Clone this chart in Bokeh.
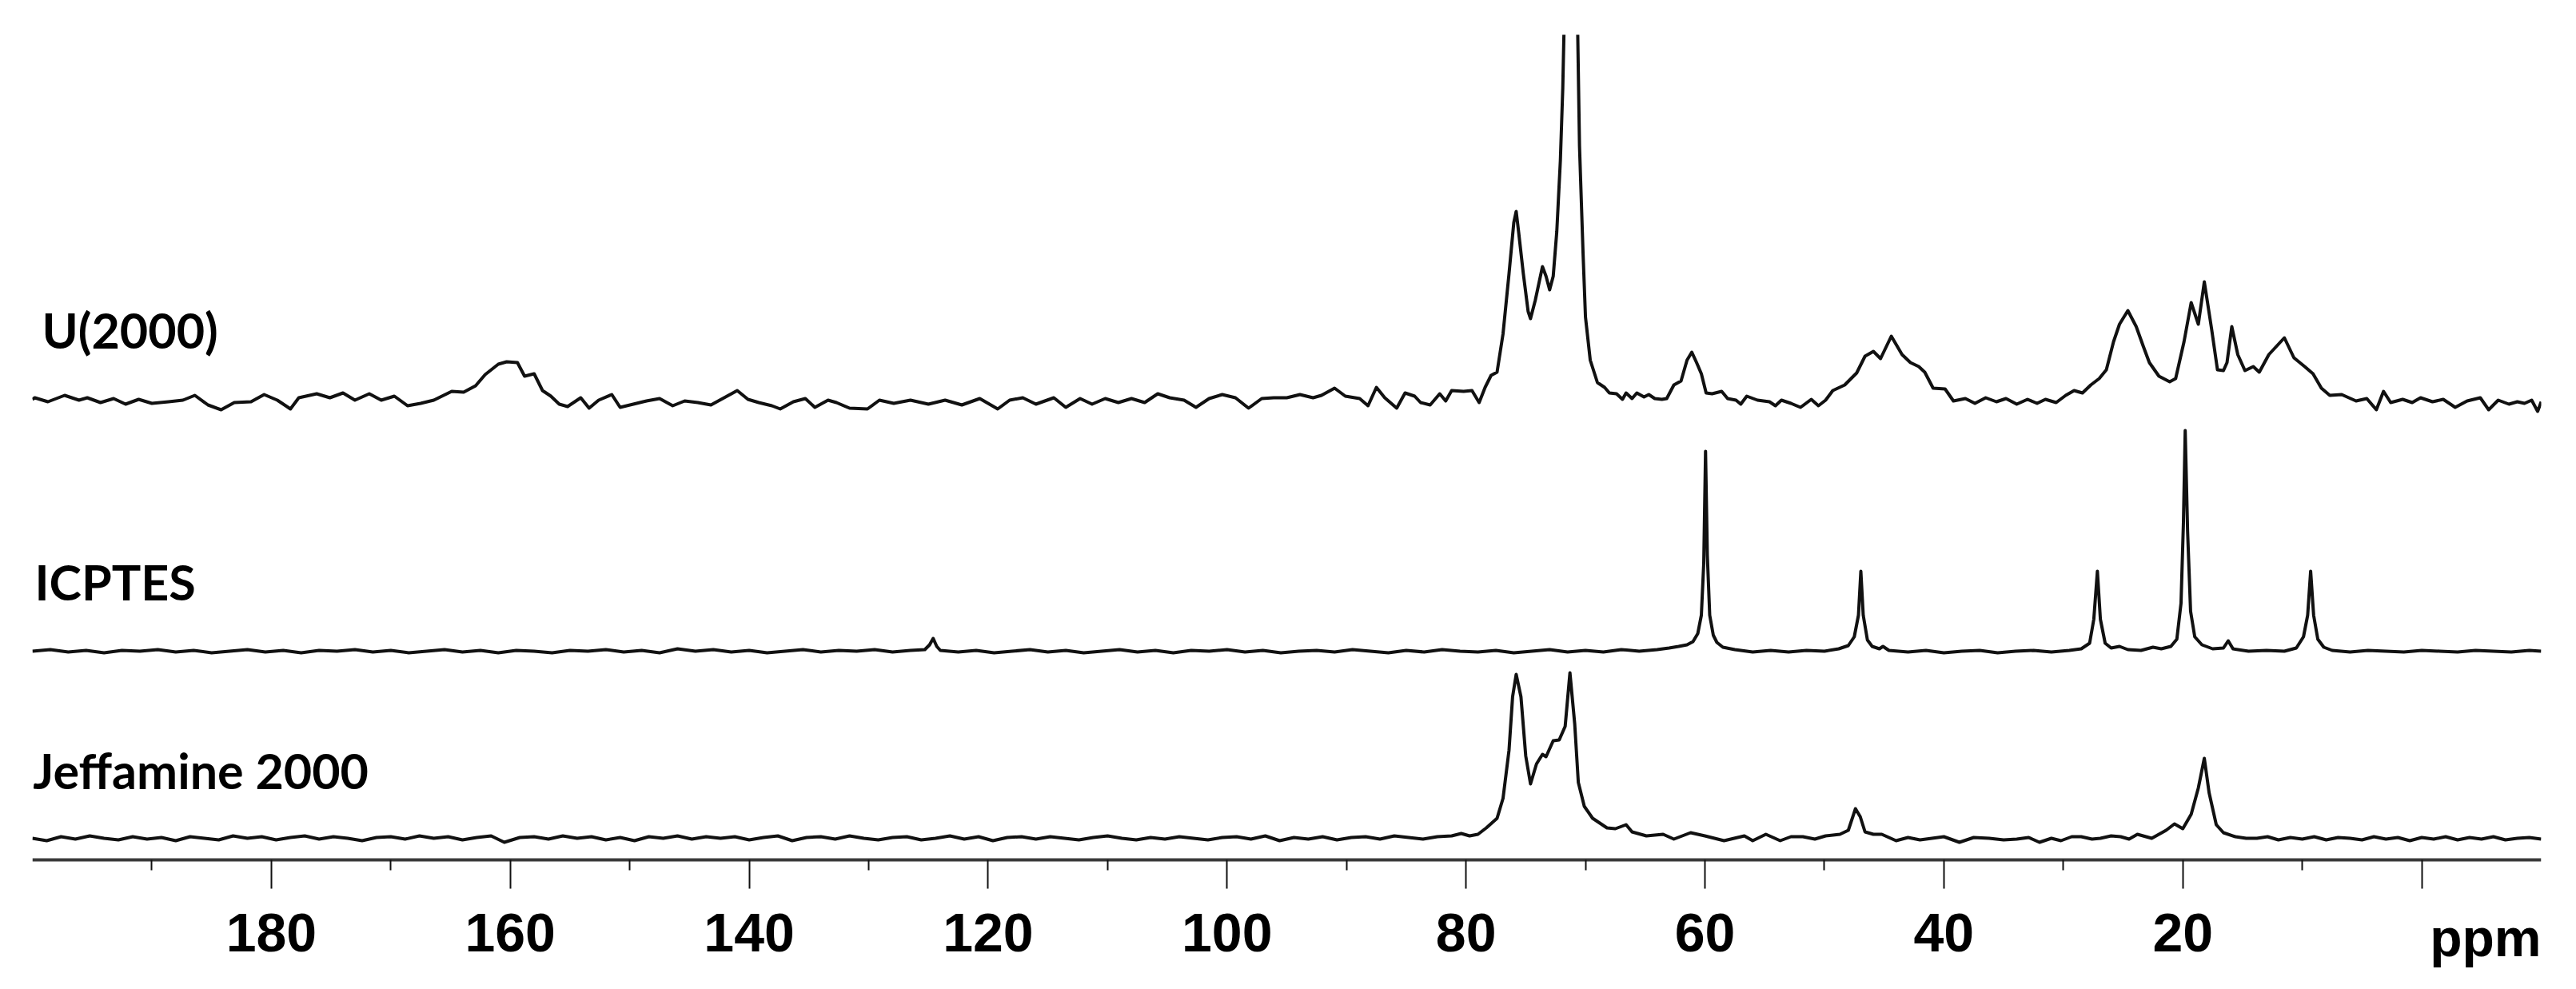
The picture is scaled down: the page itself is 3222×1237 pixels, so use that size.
from bokeh.plotting import figure
from bokeh.models import Range1d, FixedTicker, Label, LinearAxis
from bokeh.embed import file_html
from bokeh.resources import INLINE

# ---------------- data (ppm, intensity above each trace's own baseline) ----------------
u_ppm = [200.0, 199.8, 198.7, 197.3, 196.1, 195.4, 194.3, 193.2, 192.2, 191.1, 190.0, 188.6, 187.4,
         186.4, 185.3, 184.2, 183.1, 181.7, 180.6, 179.5, 178.4, 177.7, 176.2, 175.1, 174.0, 173.0,
         171.8, 170.8, 169.7, 168.6, 167.5, 166.4, 164.9, 163.9, 162.9, 162.1, 161.0, 160.3, 159.4,
         158.8, 158.0, 157.3, 156.6, 155.9, 155.2, 154.1, 153.4, 152.6, 151.5, 150.8, 149.7, 148.6,
         147.5, 146.4, 145.4, 144.3, 143.2, 142.1, 141.0, 140.1, 139.2, 138.1, 137.4, 136.3, 135.3,
         134.5, 133.4, 132.7, 131.6, 130.1, 129.1, 127.9, 126.5, 125.0, 123.6, 122.2, 120.7, 119.2,
         118.2, 117.1, 116.0, 114.5, 113.5, 112.3, 111.3, 110.2, 109.1, 108.0, 106.9, 105.8, 104.8,
         103.6, 102.6, 101.5, 100.4, 99.3, 98.2, 97.1, 96.1, 95.0, 93.9, 92.8, 92.1, 91.0, 90.1,
         88.9, 88.2, 87.5, 86.8, 85.8, 85.1, 84.3, 83.8, 83.0, 82.2, 81.7, 81.2, 80.2, 79.5, 78.9,
         78.4, 77.9, 77.4, 76.9, 76.4, 76.0, 75.8, 75.6, 75.2, 74.8, 74.6, 74.2, 73.6, 73.3, 73.0,
         72.7, 72.4, 72.1, 71.9, 71.8, 71.2, 70.65, 70.5, 70.2, 70.0, 69.6, 69.0, 68.4, 68.0, 67.4,
         66.9, 66.6, 66.1, 65.7, 65.1, 64.7, 64.2, 63.6, 63.2, 62.6, 62.0, 61.5, 61.1, 60.7, 60.3,
         59.9, 59.4, 58.6, 58.1, 57.4, 57.0, 56.5, 55.6, 54.6, 54.1, 53.6, 52.8, 52.0, 51.1, 50.5,
         49.9, 49.3, 48.3, 47.3, 46.6, 45.9, 45.3, 44.4, 43.5, 42.8, 42.1, 41.6, 40.9, 39.9, 39.2,
         38.2, 37.4, 36.5, 35.6, 34.8, 33.9, 33.0, 32.2, 31.5, 30.6, 29.8, 29.1, 28.4, 27.7, 27.0,
         26.4, 25.8, 25.3, 24.6, 23.9, 23.3, 22.8, 22.0, 21.1, 20.6, 19.9, 19.3, 18.7, 18.2, 17.6,
         17.1, 16.6, 16.3, 15.9, 15.4, 14.8, 14.1, 13.6, 12.8, 11.5, 10.7, 9.8, 9.1, 8.4, 7.7, 6.7,
         5.5, 4.6, 3.8, 3.2, 2.6, 1.6, 0.8, 0.1, -0.9, -1.8, -2.8, -3.8, -4.9, -5.6, -6.4, -7.3,
         -8.0, -8.6, -9.2, -9.7, -10.0]
u_int = [1, 3, -2, 6, 0, 3, -3, 2, -5, 1, -4, -2, 0,
         6, -6, -12, -3, -2, 7, 0, -11, 3, 8, 3, 9, 0,
         8, 0, 5, -7, -4, 0, 11, 10, 18, 32, 45, 48, 47,
         30, 33, 12, 5, -5, -8, 3, -10, 0, 7, -9, -5, -1,
         2, -7, -1, -3, -6, 3, 12, 1, -3, -7, -11, -2, 2,
         -9, 0, -3, -10, -11, 0, -4, 0, -5, 0, -6, 2, -11,
         0, 3, -5, 3, -9, 2, -5, 2, -3, 2, -3, 8, 3,
         0, -9, 2, 7, 3, -10, 2, 3, 3, 7, 3, 6, 15, 5,
         2, -7, 16, 3, -10, 9, 5, -3, -6, 8, -1, 12, 11, 12, -3,
         16, 31, 35, 83, 158, 222, 236, 211, 158, 111, 102, 125, 167, 155, 138,
         155, 211, 300, 390, 460, 1000, 460, 318, 183, 104, 50, 22, 16, 9, 8,
         1, 9, 2, 9, 4, 7, 2, 1, 2, 19, 24, 50, 60, 47, 33,
         9, 8, 11, 2, 0, -5, 5, 0, -2, -7, 0, -4, -9, 1, -7,
         0, 12, 19, 34, 55, 61, 52, 80, 57, 47, 42, 35, 15, 14, -1,
         2, -4, 3, -2, 2, -5, 1, -4, 1, -3, 6, 12, 9, 19, 27,
         38, 73, 95, 112, 92, 67, 47, 30, 23, 27, 73, 122, 95, 148, 90,
         38, 37, 47, 92, 57, 37, 42, 35, 57, 78, 53, 42, 33, 15, 6, 7,
         -1, 2, -12, 11, -3, 1, -3, 3, -2, 1, -9, -1, 3, -12, 0, -5,
         -2, -4, 0, -14, -2]

icp_ppm = [200, 198.5, 197, 195.5, 194, 192.5, 191, 189.5, 188, 186.5, 185, 183.5, 182, 180.5, 179,
           177.5, 176, 174.5, 173, 171.5, 170, 168.5, 167, 165.5, 164, 162.5, 161, 159.5, 158,
           156.5, 155, 153.5, 152, 150.5, 149, 147.5, 146, 144.5, 143, 141.5, 140, 138.5, 137,
           135.5, 134, 132.5, 131, 129.5, 128, 126.5, 125.3, 124.9, 124.6, 124.3, 124.0, 122.5,
           121, 119.5, 118, 116.5, 115, 113.5, 112, 110.5, 109, 107.5, 106, 104.5, 103, 101.5,
           100, 98.5, 97, 95.5, 94, 92.5, 91, 89.5, 88, 86.5, 85, 83.5, 82, 80.5, 79, 77.5, 76,
           74.5, 73, 71.5, 70, 68.5, 67, 65.5, 64, 63, 62.2, 61.5, 61.0, 60.6, 60.3, 60.1, 59.95,
           59.8, 59.6, 59.3, 59.0, 58.5, 57.5, 56, 54.5, 53, 51.5, 50, 48.8, 48.0, 47.5, 47.15,
           46.95, 46.75, 46.4, 46.0, 45.4, 45.1, 44.6, 43, 41.5, 40, 38.5, 37, 35.5, 34, 32.5, 31,
           29.5, 28.5, 27.8, 27.45, 27.15, 26.9, 26.5, 26.0, 25.3, 24.6, 23.5, 22.5, 21.8, 21.0,
           20.5, 20.15, 19.95, 19.8, 19.6, 19.35, 19.0, 18.4, 17.5, 16.6, 16.2, 15.8, 14.5, 13,
           11.5, 10.5, 9.9, 9.55, 9.3, 9.05, 8.7, 8.2, 7.5, 6, 4.5, 3, 1.5, 0, -1.5, -3, -4.5, -6,
           -7.5, -9, -10]
icp_int = [0, 2, -1, 1, -2, 1, 0, 2, -1, 1, -2, 0, 2, -1, 1,
           -2, 1, 0, 2, -1, 1, -2, 0, 2, -1, 1, -2, 1, 0,
           -2, 1, 0, 2, -1, 1, -2, 3, 0, 2, -1, 1, -2, 0,
           2, -1, 1, 0, 2, -1, 1, 2, 8, 16, 6, 1, -1,
           1, -2, 0, 2, -1, 1, -2, 0, 2, -1, 1, -2, 1, 0,
           2, -1, 1, -2, 0, 1, -1, 2, 0, -2, 1, -1, 2, 0, -1, 1, -2,
           0, 2, -1, 1, -1, 2, 0, 2, 4, 6, 8, 12, 22, 45, 110, 250,
           120, 45, 20, 11, 5, 2, -1, 1, -1, 1, 0, 3, 7, 18, 45,
           100, 45, 14, 6, 3, 6, 1, -1, 1, -2, 0, 1, -2, 0, 1, -1,
           1, 3, 10, 40, 100, 40, 10, 4, 6, 2, 1, 5, 3, 6,
           15, 60, 160, 276, 150, 50, 18, 8, 3, 4, 13, 3, 0, 1,
           0, 4, 18, 45, 100, 45, 15, 5, 1, -1, 1, 0, -1, 1, 0, -1, 1, 0,
           -1, 1, 0]

jef_ppm = [200, 198.8, 197.6, 196.4, 195.2, 194, 192.8, 191.6, 190.4, 189.2, 188, 186.8, 185.6,
           184.4, 183.2, 182, 180.8, 179.6, 178.4, 177.2, 176, 174.8, 173.6, 172.4, 171.2, 170,
           168.8, 167.6, 166.4, 165.2, 164, 162.8, 161.6, 160.5, 159.2, 158, 156.8, 155.6, 154.4,
           153.2, 152, 150.8, 149.6, 148.4, 147.2, 146, 144.8, 143.6, 142.4, 141.2, 140, 138.8,
           137.6, 136.4, 135.2, 134, 132.8, 131.6, 130.4, 129.2, 128, 126.8, 125.6, 124.4, 123.2,
           122, 120.8, 119.6, 118.4, 117.2, 116, 114.8, 113.6, 112.4, 111.2, 110, 108.8, 107.6,
           106.4, 105.2, 104, 102.8, 101.6, 100.4, 99.2, 98, 96.8, 95.6, 94.4, 93.2, 92, 90.8,
           89.6, 88.4, 87.2, 86, 84.8, 83.6, 82.4, 81.2, 80.4, 79.7, 79.0, 78.3, 77.4, 76.9, 76.4,
           76.1, 75.8, 75.4, 75.0, 74.6, 74.1, 73.6, 73.3, 72.7, 72.2, 71.7, 71.3, 70.9, 70.6,
           70.1, 69.4, 68.2, 67.5, 66.6, 66.1, 64.9, 63.5, 62.6, 61.2, 60.0, 58.4, 56.7, 56.0,
           54.9, 53.7, 52.8, 51.8, 50.8, 49.9, 48.7, 48.0, 47.4, 47.0, 46.6, 45.9, 45.2, 44.0,
           43.0, 42.0, 41.0, 40.0, 38.7, 37.5, 36.2, 35.0, 33.9, 32.9, 32.0, 31.0, 30.2, 29.3,
           28.5, 27.6, 26.9, 26.0, 25.2, 24.5, 23.8, 22.6, 21.4, 20.7, 20.0, 19.3, 18.7, 18.2,
           17.8, 17.2, 16.6, 15.6, 14.7, 13.8, 12.9, 12.0, 11.0, 10.0, 9.0, 8.0, 7.0, 6.0, 5.0,
           4.0, 3.0, 2.0, 1.0, 0.0, -1, -2, -3, -4, -5, -6, -7, -8, -9, -10]
jef_int = [0, -3, 2, -1, 3, 0, -2, 2, -1, 1, -3, 2, 0,
           -2, 3, 0, 2, -2, 1, 3, -1, 2, 0, -3, 1, 2,
           -1, 3, 0, 2, -2, 1, 3, -5, 1, 2, -1, 3, 0,
           2, -2, 1, -3, 2, 0, 3, -1, 2, 0, 2, -2, 1,
           3, -3, 1, 2, -1, 3, 0, -2, 1, 2, -2, 0, 3,
           -1, 2, -3, 1, 2, -1, 2, 0, -2, 1, 3, 0, -2,
           1, -1, 2, 0, -2, 1, 2, -1, 3, -3, 1, -1, 2, -2,
           1, 2, -1, 3, 1, -1, 2, 3, 6, 3, 5, 13, 25, 50, 110,
           177, 205, 177, 103, 68, 93, 105, 102, 122, 123, 140, 207, 143, 70,
           40, 25, 13, 12, 17, 8, 3, 5, -1, 7, 3, -3, 3, -3,
           5, -3, 2, 2, -1, 3, 5, 10, 37, 27, 8, 5, 5, -3,
           1, -2, 0, 2, -5, 1, 0, -2, -1, 1, -5, 0, -3, 2,
           2, -1, 0, 3, 2, -1, 5, 0, 10, 18, 12, 30, 63, 100,
           57, 17, 7, 2, 0, 0, 2, -2, 1, -1, 2, -2, 1, 0, -2,
           2, -1, 1, -3, 1, -1, 2, -2, 1, -1, 2, -2, 0, 1, -1]

series_names = ["U(2000)", "ICPTES", "Jeffamine 2000"]
major_ticks = [180, 160, 140, 120, 100, 80, 60, 40, 20, 0]
minor_ticks = [190, 170, 150, 130, 110, 90, 70, 50, 30, 10]
unit_label = "ppm"

# ---------------- layout / style ----------------
offsets = [575, 261, 27]          # vertical stacking of the three traces
label_pos = [(199.2, 663), (199.8, 348), (199.95, 112)]

p = figure(frame_width=3138, frame_height=1178,
           x_range=Range1d(200, -10), y_range=Range1d(-146, 1032),
           output_backend="svg", toolbar_location=None,
           x_axis_location=None, y_axis_location=None,
           min_border_left=40, min_border_right=28, min_border_top=43, min_border_bottom=0)
p.grid.visible = False
p.outline_line_color = None
p.background_fill_color = "white"
p.border_fill_color = "white"

for xs, ys, off in [(u_ppm, u_int, offsets[0]), (icp_ppm, icp_int, offsets[1]), (jef_ppm, jef_int, offsets[2])]:
    p.line(xs, [v + off for v in ys], line_color="#111111", line_width=4, line_join="round")

ax = LinearAxis(fixed_location=0)
ax.ticker = FixedTicker(ticks=major_ticks, minor_ticks=minor_ticks)
ax.major_label_overrides = {0: ""}
ax.axis_line_width = 4
ax.axis_line_color = "#3a3a3a"
ax.major_tick_in = 0
ax.major_tick_out = 36
ax.minor_tick_in = 0
ax.minor_tick_out = 13
ax.major_tick_line_width = 2
ax.minor_tick_line_width = 2
ax.major_tick_line_color = "#111111"
ax.minor_tick_line_color = "#111111"
ax.major_label_text_font = "Liberation Sans"
ax.major_label_text_font_style = "bold"
ax.major_label_text_font_size = "68px"
ax.major_label_text_color = "#000000"
ax.major_label_standoff = 31
p.add_layout(ax, "below")

p.add_layout(Label(x=-10, y=-97, text=unit_label, text_align="right", text_baseline="alphabetic",
                   text_font="Liberation Sans", text_font_style="bold", text_font_size="66px",
                   text_color="#000000"))

for name, (lx, ly) in zip(series_names, label_pos):
    p.add_layout(Label(x=lx, y=ly, text=name, text_align="left", text_baseline="alphabetic",
                       text_font="Lato", text_font_style="bold", text_font_size="61px",
                       text_color="#000000"))

open("out.html", "w").write(file_html(p, INLINE))
